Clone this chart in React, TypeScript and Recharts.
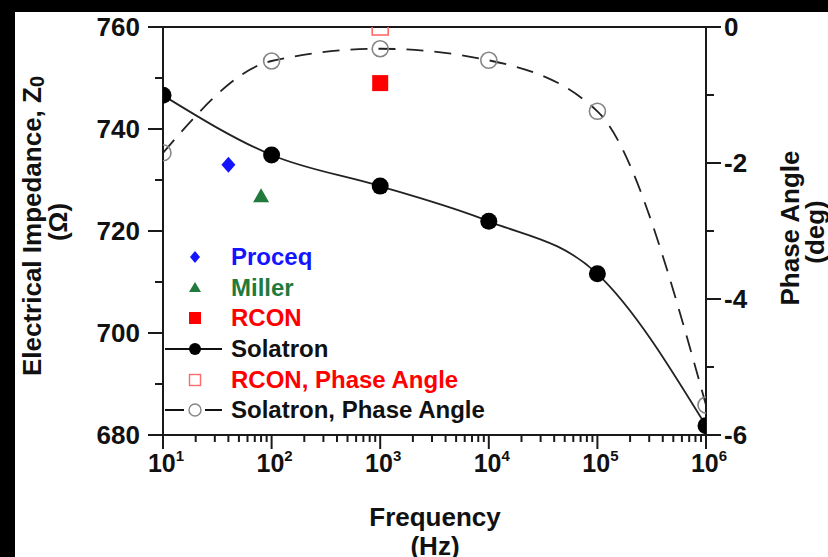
import { ComposedChart, Line, Scatter, XAxis, YAxis, Legend, ReferenceLine } from 'recharts'

const FONT = '"Liberation Sans", Arial, sans-serif'

// Solatron sweep: impedance and phase at each decade
const FREQUENCIES = [10, 100, 1000, 10000, 100000, 1000000]
const SOLATRON_Z = [746.6, 734.9, 728.8, 721.9, 711.6, 681.8]
const SOLATRON_PHASE = [-1.85, -0.5, -0.32, -0.49, -1.24, -5.56]

// single-frequency meters
const PROCEQ_F = [40]
const PROCEQ_Z = [733]
const MILLER_F = [80]
const MILLER_Z = [726.8]
const RCON_F = [1000]
const RCON_Z = [749]
const RCON_PHASE = [0]

const X_MAJOR = [10, 100, 1000, 10000, 100000, 1000000]
const X_MINOR = X_MAJOR.slice(0, -1).flatMap((d) => [2, 3, 4, 5, 6, 7, 8, 9].map((k) => k * d))
const Z_MAJOR = [680, 700, 720, 740, 760]
const Z_MINOR = [690, 710, 730, 750]
const PHASE_MAJOR = [-6, -4, -2, 0]
const PHASE_MINOR = [-5, -3, -1]

const solatronZData = FREQUENCIES.map((f, i) => ({ f, z: SOLATRON_Z[i] }))
const solatronPhaseData = FREQUENCIES.map((f, i) => ({ f, phase: SOLATRON_PHASE[i] }))
const proceqData = PROCEQ_F.map((f, i) => ({ f, z: PROCEQ_Z[i] }))
const millerData = MILLER_F.map((f, i) => ({ f, z: MILLER_Z[i] }))
const rconData = RCON_F.map((f, i) => ({ f, z: RCON_Z[i] }))
const rconPhaseData = RCON_F.map((f, i) => ({ f, phase: RCON_PHASE[i] }))

const AXIS = '#1a1a1a'
const BLUE = '#1414ff'
const GREEN = '#1f7a3c'
const RED = '#ff0000'
const LIGHT_RED = '#ff6b6b'
const GREY = '#858585'

const LEGEND_ITEMS = [
  { name: 'Proceq', icon: 'diamond', color: BLUE },
  { name: 'Miller', icon: 'triangle', color: GREEN },
  { name: 'RCON', icon: 'square', color: RED },
  { name: 'Solatron', icon: 'solatron', color: '#111' },
  { name: 'RCON, Phase Angle', icon: 'openSquare', color: RED },
  { name: 'Solatron, Phase Angle', icon: 'openCircle', color: '#111' },
]

function FreqTick(props: any) {
  const { x, y, payload } = props
  const exp = Math.round(Math.log10(payload.value))
  const major = X_MAJOR.includes(payload.value)
  return (
    <g>
      <line x1={x} x2={x} y1={y} y2={y + (major ? 14 : 7)} stroke={AXIS} strokeWidth={2} />
      {major && (
        <text x={x + 3} y={y + 37} textAnchor="middle" fontFamily={FONT} fontWeight="bold" fontSize={25} fill="#111">
          10
          <tspan dy={-11} fontSize={15}>
            {exp}
          </tspan>
        </text>
      )}
    </g>
  )
}

function ZTick(props: any) {
  const { x, y, payload } = props
  const major = Z_MAJOR.includes(payload.value)
  return (
    <g>
      <line x1={x - (major ? 15 : 8)} x2={x} y1={y} y2={y} stroke={AXIS} strokeWidth={2} />
      {major && (
        <text x={x - 23} y={y} dy="0.36em" textAnchor="end" fontFamily={FONT} fontWeight="bold" fontSize={26} fill="#111">
          {payload.value}
        </text>
      )}
    </g>
  )
}

function PhaseTick(props: any) {
  const { x, y, payload } = props
  const major = PHASE_MAJOR.includes(payload.value)
  return (
    <g>
      <line x1={x} x2={x + (major ? 15 : 8)} y1={y} y2={y} stroke={AXIS} strokeWidth={2} />
      {major && (
        <text x={x + 18} y={y} dy="0.36em" textAnchor="start" fontFamily={FONT} fontWeight="bold" fontSize={26} fill="#111">
          {payload.value}
        </text>
      )}
    </g>
  )
}

const filledDot = (p: any) => <circle key={`s-${p.index}`} cx={p.cx} cy={p.cy} r={8.5} fill="#000" />
const openDot = (p: any) => (
  <circle key={`p-${p.index}`} cx={p.cx} cy={p.cy} r={8} fill="none" stroke={GREY} strokeWidth={1.6} />
)

const diamondShape = (p: any) => (
  <polygon points={`${p.cx},${p.cy - 8} ${p.cx + 7},${p.cy} ${p.cx},${p.cy + 8} ${p.cx - 7},${p.cy}`} fill={BLUE} />
)
const triangleShape = (p: any) => (
  <polygon points={`${p.cx},${p.cy - 8} ${p.cx + 8},${p.cy + 6} ${p.cx - 8},${p.cy + 6}`} fill={GREEN} />
)
const squareShape = (p: any) => <rect x={p.cx - 8} y={p.cy - 8} width={16} height={16} fill={RED} />
const openSquareShape = (p: any) => (
  <rect x={p.cx - 8} y={p.cy - 8} width={16} height={16} fill="none" stroke={LIGHT_RED} strokeWidth={1.6} />
)

function LegendIcon({ icon, color }: { icon: string; color: string }) {
  const c = 32
  const m = 15
  return (
    <svg width={64} height={30} style={{ display: 'block', flex: 'none' }}>
      {icon === 'diamond' && <polygon points={`${c},${m - 6} ${c + 5},${m} ${c},${m + 6} ${c - 5},${m}`} fill={color} />}
      {icon === 'triangle' && <polygon points={`${c},${m - 6} ${c + 6},${m + 4} ${c - 6},${m + 4}`} fill={color} />}
      {icon === 'square' && <rect x={c - 6} y={m - 6} width={12} height={12} fill={color} />}
      {icon === 'solatron' && (
        <>
          <line x1={2} x2={59} y1={m} y2={m} stroke="#111" strokeWidth={2} />
          <circle cx={c} cy={m} r={6} fill="#000" />
        </>
      )}
      {icon === 'openSquare' && (
        <rect x={c - 5.5} y={m - 5.5} width={11} height={11} fill="none" stroke={LIGHT_RED} strokeWidth={1.4} />
      )}
      {icon === 'openCircle' && (
        <>
          <line x1={2} x2={21} y1={m} y2={m} stroke="#111" strokeWidth={2} />
          <line x1={42} x2={59} y1={m} y2={m} stroke="#111" strokeWidth={2} />
          <circle cx={c} cy={m} r={6} fill="none" stroke={GREY} strokeWidth={1.4} />
        </>
      )}
    </svg>
  )
}

function renderLegend() {
  return (
    <div style={{ fontFamily: FONT, fontWeight: 'bold', fontSize: 24 }}>
      {LEGEND_ITEMS.map((item) => (
        <div key={item.name} style={{ display: 'flex', alignItems: 'center', height: 30.6 }}>
          <LegendIcon icon={item.icon} color={item.color} />
          <span style={{ color: item.color, marginLeft: 4, whiteSpace: 'nowrap' }}>{item.name}</span>
        </div>
      ))}
    </div>
  )
}

const titleProps = { fontFamily: FONT, fontWeight: 'bold', fontSize: 26, fill: '#111', textAnchor: 'middle' as const }

const zTitle = () => (
  <g>
    <text {...titleProps} x={32} y={226} dy="0.36em" transform="rotate(-90 32 226)">
      Electrical Impedance, Z<tspan fontSize={20} dy={3}>0</tspan>
    </text>
    <text {...titleProps} x={58} y={222} dy="0.36em" transform="rotate(-90 58 222)">
      (Ω)
    </text>
  </g>
)

const phaseTitle = () => (
  <g>
    <text {...titleProps} x={790} y={228} dy="0.36em" transform="rotate(-90 790 228)">
      Phase Angle
    </text>
    <text {...titleProps} x={815} y={232} dy="0.36em" transform="rotate(-90 815 232)">
      (deg)
    </text>
  </g>
)

const freqTitle = () => (
  <g>
    <text {...titleProps} x={435} y={526}>
      Frequency
    </text>
    <text {...titleProps} x={435} y={555}>
      (Hz)
    </text>
  </g>
)

export default function App() {
  return (
    <div style={{ position: 'absolute', left: 0, top: 0, width: 828, height: 557, background: '#000' }}>
      <div style={{ position: 'absolute', left: 15, top: 12, right: 0, bottom: 0, background: '#fff' }} />
      <div style={{ position: 'absolute', left: 0, top: 0 }}>
        <ComposedChart width={828} height={557} margin={{ top: 27, right: 62, bottom: 62, left: 103 }}>
          <XAxis
            dataKey="f"
            type="number"
            scale="log"
            domain={[10, 1000000]}
            allowDataOverflow
            ticks={[...X_MAJOR, ...X_MINOR]}
            interval={0}
            tickSize={0}
            tickMargin={0}
            tick={FreqTick}
            height={60}
            axisLine={{ stroke: AXIS, strokeWidth: 2 }}
            label={freqTitle}
          />
          <YAxis
            yAxisId="z"
            orientation="left"
            type="number"
            domain={[680, 760]}
            allowDataOverflow
            ticks={[...Z_MAJOR, ...Z_MINOR]}
            interval={0}
            tickSize={0}
            tickMargin={0}
            tick={ZTick}
            width={60}
            axisLine={{ stroke: AXIS, strokeWidth: 2 }}
            label={zTitle}
          />
          <YAxis
            yAxisId="phase"
            orientation="right"
            type="number"
            domain={[-6, 0]}
            allowDataOverflow
            ticks={[...PHASE_MAJOR, ...PHASE_MINOR]}
            interval={0}
            tickSize={0}
            tickMargin={0}
            tick={PhaseTick}
            width={60}
            axisLine={{ stroke: AXIS, strokeWidth: 2 }}
            label={phaseTitle}
          />
          <ReferenceLine yAxisId="z" y={760} stroke={AXIS} strokeWidth={2} />
          <Line
            yAxisId="phase"
            data={solatronPhaseData}
            dataKey="phase"
            type="monotone"
            stroke="#222"
            strokeWidth={1.8}
            strokeDasharray="17 11"
            dot={openDot}
            activeDot={false}
            isAnimationActive={false}
          />
          <Line
            yAxisId="z"
            data={solatronZData}
            dataKey="z"
            type="monotone"
            stroke="#222"
            strokeWidth={1.8}
            dot={filledDot}
            activeDot={false}
            isAnimationActive={false}
          />
          <Scatter yAxisId="z" data={proceqData} dataKey="z" shape={diamondShape} isAnimationActive={false} />
          <Scatter yAxisId="z" data={millerData} dataKey="z" shape={triangleShape} isAnimationActive={false} />
          <Scatter yAxisId="z" data={rconData} dataKey="z" shape={squareShape} isAnimationActive={false} />
          <Scatter yAxisId="phase" data={rconPhaseData} dataKey="phase" shape={openSquareShape} isAnimationActive={false} />
          <Legend
            layout="vertical"
            align="center"
            verticalAlign="middle"
            wrapperStyle={{ top: 242, left: 163, width: 380 }}
            content={renderLegend}
          />
        </ComposedChart>
      </div>
    </div>
  )
}
